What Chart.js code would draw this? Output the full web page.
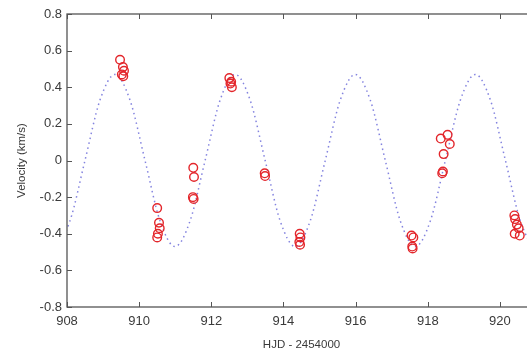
<!DOCTYPE html>
<html>
<head>
<meta charset="utf-8">
<script src="https://cdn.jsdelivr.net/npm/chart.js@4/dist/chart.umd.min.js"></script>
<style>
  html, body { margin: 0; padding: 0; background: #fff; overflow: hidden; }
  #wrap { width: 527px; height: 353px; overflow: hidden; position: relative; }
  #box { width: 542px; height: 353px; }
</style>
</head>
<body>
<div id="wrap"><div id="box"><canvas id="c"></canvas></div></div>
<script>
// model curve (1/8 period apart)
const modelDays = [907.249, 907.665, 908.081, 908.498, 908.914, 909.330, 909.746, 910.163,
  910.579, 910.995, 911.411, 911.828, 912.244, 912.660, 913.076, 913.493, 913.909, 914.325,
  914.741, 915.158, 915.574, 915.990, 916.406, 916.823, 917.239, 917.655, 918.071, 918.488,
  918.904, 919.320, 919.736, 920.153, 920.569, 920.985, 921.401];
const modelVel = [-0.33, -0.47, -0.33, 0, 0.33, 0.47, 0.33, 0,
  -0.33, -0.47, -0.33, 0, 0.33, 0.47, 0.33, 0, -0.33, -0.47,
  -0.33, 0, 0.33, 0.47, 0.33, 0, -0.33, -0.47, -0.33, 0,
  0.33, 0.47, 0.33, 0, -0.33, -0.47, -0.33];

// observations
const obsDays = [909.47, 909.55, 909.58, 909.52, 909.56,
  910.50, 910.55, 910.57, 910.52, 910.50,
  911.50, 911.52, 911.49, 911.51,
  912.50, 912.55, 912.53, 912.57,
  913.48, 913.49,
  914.45, 914.47, 914.44, 914.46,
  917.55, 917.60, 917.57, 917.58,
  918.36, 918.55, 918.61, 918.44, 918.42, 918.40,
  920.40, 920.42, 920.47, 920.52, 920.41, 920.55];
const obsVel = [0.55, 0.51, 0.49, 0.47, 0.46,
  -0.26, -0.34, -0.37, -0.40, -0.42,
  -0.04, -0.09, -0.20, -0.21,
  0.45, 0.43, 0.42, 0.40,
  -0.07, -0.085,
  -0.40, -0.42, -0.445, -0.46,
  -0.41, -0.42, -0.47, -0.48,
  0.12, 0.14, 0.09, 0.035, -0.06, -0.07,
  -0.30, -0.32, -0.35, -0.37, -0.40, -0.41];

const xTicks = [908, 910, 912, 914, 916, 918, 920];
const yTicks = [-0.8, -0.6, -0.4, -0.2, 0, 0.2, 0.4, 0.6, 0.8];

const axisColor = '#555';
const labelColor = '#3a3a3a';

// matlab style frame with inward ticks
const framePlugin = {
  id: 'frame',
  afterDatasetsDraw(chart) {
    const { ctx, chartArea: a, scales } = chart;
    ctx.save();
    ctx.strokeStyle = axisColor;
    ctx.lineWidth = 1.3;
    ctx.strokeRect(a.left, a.top, a.right - a.left, a.bottom - a.top);
    ctx.lineWidth = 1;
    ctx.beginPath();
    xTicks.forEach(v => {
      const x = Math.round(scales.x.getPixelForValue(v)) + 0.5;
      ctx.moveTo(x, a.bottom); ctx.lineTo(x, a.bottom - 5);
      ctx.moveTo(x, a.top); ctx.lineTo(x, a.top + 5);
    });
    yTicks.forEach(v => {
      const y = Math.round(scales.y.getPixelForValue(v)) + 0.5;
      ctx.moveTo(a.left, y); ctx.lineTo(a.left + 5, y);
    });
    ctx.stroke();
    ctx.restore();
  }
};

new Chart(document.getElementById('c'), {
  type: 'scatter',
  data: {
    datasets: [
      {
        type: 'line',
        data: modelDays.map((d, i) => ({ x: d, y: modelVel[i] })),
        borderColor: 'rgba(100,100,215,0.8)',
        borderWidth: 1.5,
        borderDash: [1.5, 3.5],
        pointRadius: 0,
        fill: false,
        cubicInterpolationMode: 'monotone',
        order: 2
      },
      {
        data: obsDays.map((d, i) => ({ x: d, y: obsVel[i] })),
        pointStyle: 'circle',
        pointRadius: 4.3,
        borderWidth: 1.4,
        borderColor: '#e3262b',
        backgroundColor: 'rgba(0,0,0,0)',
        order: 1
      }
    ]
  },
  options: {
    responsive: true,
    maintainAspectRatio: false,
    animation: false,
    layout: { padding: { top: 14, right: 6, left: 0, bottom: 0 } },
    plugins: { legend: { display: false }, tooltip: { enabled: false } },
    scales: {
      x: {
        type: 'linear',
        min: 908,
        max: 921,
        afterBuildTicks: s => { s.ticks = xTicks.map(v => ({ value: v })); },
        afterFit: s => { s.height = 46; },
        grid: { display: false, drawTicks: false },
        border: { display: false },
        ticks: { color: labelColor, font: { family: 'Liberation Sans', size: 13 }, padding: 7 },
        title: {
          display: true,
          text: 'HJD - 2454000',
          color: labelColor,
          font: { family: 'Liberation Sans', size: 11.5 },
          padding: { top: 2, bottom: 1 }
        }
      },
      y: {
        min: -0.8,
        max: 0.8,
        afterBuildTicks: s => { s.ticks = yTicks.map(v => ({ value: v })); },
        afterFit: s => { s.width = 67; },
        grid: { display: false, drawTicks: false },
        border: { display: false },
        ticks: {
          color: labelColor,
          font: { family: 'Liberation Sans', size: 13 },
          padding: 5,
          callback: v => (Math.abs(v) < 1e-9 ? '0' : String(Math.round(v * 10) / 10))
        },
        title: {
          display: true,
          text: 'Velocity (km/s)',
          color: labelColor,
          font: { family: 'Liberation Sans', size: 11.5 },
          padding: { top: 15, bottom: 0 }
        }
      }
    }
  },
  plugins: [framePlugin]
});
</script>
</body>
</html>
